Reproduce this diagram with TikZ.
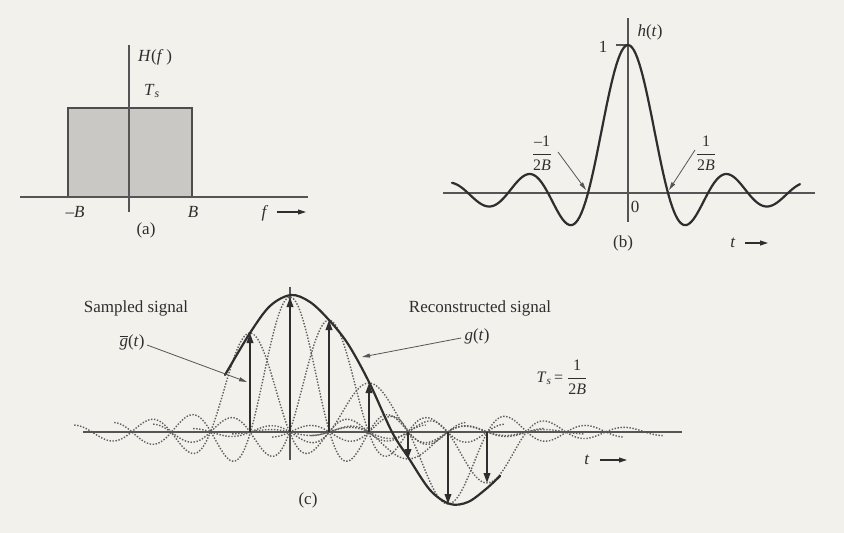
\documentclass[tikz,border=0pt]{standalone}
\usepackage{fontspec}
\setmainfont{Liberation Serif}
\usetikzlibrary{arrows.meta}
\definecolor{paper}{HTML}{F2F1EC}
\definecolor{ink}{HTML}{2E2E2E}
\definecolor{axisc}{HTML}{555555}
\definecolor{dotc}{HTML}{5E5E5E}
\definecolor{boxfill}{HTML}{C9C8C4}
\begin{document}
\begin{tikzpicture}[x=1pt,y=-1pt,
  lbl/.style={font=\fontsize{17}{20}\selectfont, inner sep=0pt, text=ink},
  frc/.style={font=\fontsize{16}{19}\selectfont, inner sep=0pt, text=ink},
  axisline/.style={draw=axisc, line width=1.1pt},
  curve/.style={draw=ink, line width=2.2pt, line cap=round},
  sample/.style={draw=ink, line width=2pt, -{Triangle[length=10pt,width=6.5pt]}},
  pointer/.style={draw=axisc, line width=0.8pt, -{Triangle[length=8pt,width=4pt]}},
  dotsinc/.style={draw=dotc, line width=1.4pt, dash pattern=on 1.4pt off 1.6pt},
  dirarrow/.style={draw=ink, line width=1.1pt, -{Triangle[length=8pt,width=5pt]}}]
\fill[paper] (0,0) rectangle (844,533);
\useasboundingbox (0,0) rectangle (844,533);

% ---------------- (a) ----------------
\draw[draw=ink!85, fill=boxfill, line width=2pt] (68,197) -- (68,108) -- (192,108) -- (192,197);
\coordinate (aL) at (20,197); \coordinate (aR) at (308,197);
\coordinate (aB) at (129,212); \coordinate (aT) at (129,45);
\draw[axisline] (aL) -- (aR);
\draw[axisline] (aB) -- (aT);
\node[lbl] (Hf) at (155,57) {\textit{H}(\textit{f}\,)};
\node[lbl] (Ts) at (152,91) {\textit{T}\textsubscript{\textit{s}}};
\node[lbl] (mB) at (75,212) {–\textit{B}};
\node[lbl] (pB) at (193,212) {\textit{B}};
\node[lbl] (fl) at (265,213) {\textit{f}};
\coordinate (fa1) at (277,212); \coordinate (fa2) at (306,212);
\draw[dirarrow] (fa1) -- (fa2);
\node[lbl] (la) at (146,230) {(a)};

% ---------------- (b) ----------------
\coordinate (bL) at (443,193); \coordinate (bR) at (815,193);
\coordinate (bB) at (628,222); \coordinate (bT) at (628,18);
\draw[axisline] (bL) -- (bR);
\draw[axisline] (bB) -- (bT);
\coordinate (tk1) at (616,45); \coordinate (tk2) at (628,45);
\draw[axisline] (tk1) -- (tk2);
\draw[curve] plot[domain=-4.4:4.3, samples=200] ({628+40*\x}, {193-148*sin(180*\x)/(3.14159*\x)});
\node[lbl] (one) at (603,47) {1};
\node[lbl] (ht) at (650,32) {\textit{h}(\textit{t})};
\node[lbl] (zero) at (635,207) {0};
\node[frc] (fm) at (542,153) {$\displaystyle\frac{\mbox{–1}}{\mbox{2\textit{B}}}$};
\node[frc] (fp) at (706,153) {$\displaystyle\frac{\mbox{1}}{\mbox{2\textit{B}}}$};
\coordinate (zm) at (586,190); \coordinate (zp) at (669,190);
\coordinate (pm) at (558,152); \coordinate (pp) at (695,150);
\draw[pointer] (pm) -- (zm);
\draw[pointer] (pp) -- (zp);
\node[lbl] (lb) at (623,243) {(b)};
\node[lbl] (tb) at (733,243) {\textit{t}};
\coordinate (tb1) at (745,243); \coordinate (tb2) at (768,243);
\draw[dirarrow] (tb1) -- (tb2);

% ---------------- (c) ----------------
\foreach \xc/\a in {250/99, 290/135, 329/112, 369/49, 408/-27, 448/-72, 487/-51}{
  \draw[dotsinc] plot[domain=-4.45:4.45, samples=150]
    ({\xc+39.5*(\x)}, {432-(\a)*sin(180*\x)/(3.14159*\x)});
}
\coordinate (cL) at (83,432); \coordinate (cR) at (682,432);
\coordinate (cB) at (290,460); \coordinate (cT) at (290,287);
\draw[axisline] (cL) -- (cR);
\draw[axisline] (cB) -- (cT);
\draw[curve] plot[smooth, tension=0.55] coordinates {
  (225,375) (250,333) (270,306) (291,295) (310,302) (329,320) (348,344)
  (369,382) (392,432) (408,457) (430,490) (450,504) (468,502) (486,489) (500,476)};
\foreach \n/\xc/\a in {m/250/99, a/290/135, b/329/112, c/369/49, d/408/-27, e/448/-72, f/487/-51}{
  \coordinate (s\n) at (\xc,432);
  \coordinate (t\n) at (\xc,{432-(\a)});
  \draw[sample] (s\n) -- (t\n);
}
\node[lbl] (samp) at (136,308) {Sampled signal};
\node[lbl] (gbar) at (132,342) {$\overline{\mbox{\textit{g}}}$(\textit{t})};
\node[lbl] (reco) at (480,308) {Reconstructed signal};
\node[lbl] (gt) at (477,336) {\textit{g}(\textit{t})};
\coordinate (gb1) at (147,345); \coordinate (gb2) at (247,382);
\coordinate (g1) at (461,338); \coordinate (g2) at (362,357);
\draw[pointer] (gb1) -- (gb2);
\draw[pointer] (g1) -- (g2);
\node[frc] (tsc) at (562,377) {\textit{T}\textsubscript{\textit{s}}\,= $\displaystyle\frac{\mbox{1}}{\mbox{2\textit{B}}}$};
\node[lbl] (lc) at (308,500) {(c)};
\node[lbl] (tc) at (587,460) {\textit{t}};
\coordinate (tc1) at (600,460); \coordinate (tc2) at (627,460);
\draw[dirarrow] (tc1) -- (tc2);
\end{tikzpicture}
\end{document}
